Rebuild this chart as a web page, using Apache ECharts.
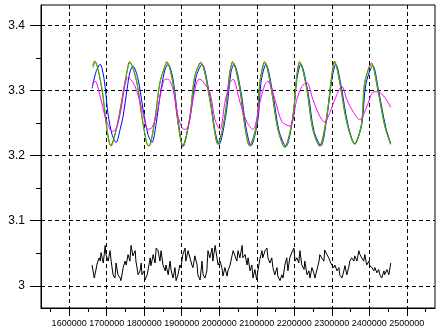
<!DOCTYPE html>
<html><head><meta charset="utf-8">
<script src="https://cdn.jsdelivr.net/npm/echarts@6/dist/echarts.min.js"></script>
<style>html,body{margin:0;padding:0;background:#fff}#c{width:441px;height:332px}</style>
</head><body><div id="c"></div>
<script>
const xMajorTicks = [1600000,1700000,1800000,1900000,2000000,2100000,2200000,2300000,2400000,2500000];
const xMinorTicks = [1550000,1650000,1750000,1850000,1950000,2050000,2150000,2250000,2350000,2450000,2550000];
const yMajorTicks = [3,3.1,3.2,3.3,3.4];
const yMinorTicks = [3.05,3.15,3.25,3.35];

const greenX = [1663900,1669200,1687800,1701200,1711800,1727800,1741100,1754400,1762400,1781000,1794300,1807600,1813000,1828900,1842200,1855600,1860900,1876900,1890200,1903500,1922100,1935400,1951400,1975300,1988700,1996600,2015300,2028600,2036600,2055200,2068500,2081800,2100500,2108500,2121800,2140400,2156400,2175000,2196300,2206900,2214900,2233600,2249500,2268200,2286800,2300100,2308100,2321400,2340000,2361300,2379900,2387900,2406600,2422500,2441200,2457200];
const greenY = [3.335,3.343,3.302,3.240,3.214,3.245,3.286,3.328,3.343,3.312,3.260,3.217,3.214,3.255,3.312,3.337,3.343,3.312,3.251,3.214,3.260,3.322,3.342,3.286,3.235,3.217,3.260,3.328,3.343,3.302,3.245,3.214,3.251,3.312,3.343,3.297,3.240,3.212,3.260,3.322,3.343,3.302,3.240,3.214,3.260,3.322,3.343,3.312,3.251,3.217,3.251,3.312,3.340,3.302,3.245,3.217];

const redX = [1662500,1668000,1686500,1700000,1710500,1726500,1740000,1753000,1761000,1779500,1793000,1806500,1812000,1827500,1841000,1854500,1860000,1875500,1889000,1902500,1921000,1934000,1950500,1974000,1987500,1995500,2014000,2027500,2035500,2054000,2067500,2080500,2099500,2107500,2121000,2139500,2155500,2174000,2195500,2206000,2214000,2232500,2248500,2267000,2285500,2299000,2307000,2320500,2339000,2360500,2379000,2387000,2405500,2421500,2440500,2456000];
const redY = [3.338,3.345,3.304,3.243,3.215,3.243,3.284,3.326,3.344,3.314,3.262,3.219,3.215,3.252,3.310,3.336,3.344,3.314,3.254,3.215,3.257,3.320,3.343,3.288,3.237,3.218,3.257,3.326,3.344,3.304,3.247,3.215,3.248,3.310,3.344,3.299,3.242,3.213,3.257,3.320,3.344,3.304,3.242,3.215,3.257,3.320,3.345,3.314,3.253,3.218,3.248,3.310,3.342,3.304,3.247,3.218];

const blueX = [1661200,1671900,1682500,1693200,1703800,1714500,1725100,1735800,1743700,1754400,1762400,1770400,1783700,1797000,1810300,1820900,1831600,1844900,1855600,1863600,1876900,1890200,1903500,1922100,1938100,1954000,1975300,1988700,1999300,2018000,2031300,2039300,2057900,2071200,2084500,2103200,2111100,2124500,2143100,2159100,2177700,2196300,2206900,2217500,2236200,2252200,2270900,2286800,2300100,2310800,2324100,2342700,2361300,2379900,2390600,2409200,2425200,2443800,2457200];
const blueY = [3.303,3.329,3.340,3.317,3.263,3.232,3.220,3.240,3.260,3.302,3.329,3.337,3.317,3.271,3.232,3.220,3.248,3.302,3.332,3.340,3.317,3.255,3.214,3.258,3.320,3.340,3.289,3.238,3.217,3.263,3.328,3.340,3.298,3.243,3.215,3.255,3.312,3.340,3.294,3.238,3.214,3.258,3.317,3.340,3.298,3.238,3.215,3.258,3.317,3.340,3.309,3.248,3.218,3.248,3.309,3.338,3.298,3.243,3.218];

const magentaX = [1661200,1669200,1682500,1695800,1709100,1717100,1727800,1738400,1749100,1757100,1775700,1794300,1810300,1820900,1834200,1844900,1855600,1863600,1876900,1890200,1906200,1916800,1930100,1940800,1948700,1962100,1975300,1988700,2002000,2015300,2028600,2036600,2055200,2073900,2089800,2108500,2121800,2129700,2148400,2167000,2188300,2206900,2220200,2233600,2249500,2268200,2281500,2294800,2308100,2326700,2340000,2356000,2374600,2393300,2409200,2422500,2441200,2457200];
const magentaY = [3.311,3.314,3.291,3.260,3.240,3.237,3.245,3.271,3.309,3.320,3.306,3.271,3.240,3.243,3.266,3.298,3.317,3.317,3.302,3.260,3.240,3.243,3.286,3.314,3.317,3.309,3.297,3.255,3.240,3.282,3.312,3.317,3.282,3.251,3.240,3.282,3.309,3.314,3.286,3.252,3.245,3.286,3.306,3.312,3.286,3.260,3.251,3.266,3.286,3.306,3.286,3.268,3.255,3.275,3.297,3.298,3.289,3.274];

const blackX = [1661000,1667000,1669000,1675000,1680000,1683000,1685000,1691000,1696000,1698000,1704000,1709000,1712000,1717000,1722000,1725000,1730000,1736000,1738000,1744000,1749000,1752000,1757000,1762000,1765000,1770000,1776000,1778000,1784000,1789000,1792000,1794000,1800000,1802000,1808000,1816000,1818000,1824000,1829000,1832000,1837000,1842000,1845000,1850000,1856000,1858000,1864000,1869000,1872000,1877000,1882000,1885000,1890000,1895000,1898000,1903000,1909000,1911000,1917000,1922000,1927000,1930000,1935000,1941000,1943000,1949000,1954000,1957000,1962000,1967000,1970000,1975000,1981000,1983000,1989000,1994000,1997000,2002000,2007000,2010000,2015000,2021000,2023000,2029000,2034000,2037000,2042000,2047000,2050000,2055000,2061000,2063000,2069000,2074000,2077000,2082000,2087000,2090000,2095000,2100000,2103000,2108000,2114000,2116000,2122000,2127000,2130000,2135000,2140000,2143000,2148000,2154000,2156000,2162000,2167000,2170000,2175000,2180000,2183000,2188000,2194000,2199000,2202000,2207000,2212000,2215000,2220000,2226000,2228000,2234000,2239000,2242000,2247000,2252000,2255000,2260000,2266000,2268000,2273000,2279000,2281000,2287000,2292000,2295000,2300000,2305000,2308000,2314000,2319000,2321000,2327000,2332000,2335000,2340000,2345000,2348000,2353000,2359000,2361000,2367000,2372000,2375000,2380000,2385000,2388000,2393000,2399000,2401000,2407000,2412000,2415000,2420000,2425000,2428000,2433000,2439000,2441000,2447000,2452000,2455000,2457000];
const blackY = [3.032,3.012,3.009,3.035,3.043,3.038,3.051,3.035,3.062,3.048,3.038,3.054,3.038,3.017,3.012,3.035,3.017,3.012,3.008,3.028,3.038,3.032,3.048,3.038,3.062,3.046,3.054,3.038,3.017,3.023,3.035,3.017,3.023,3.009,3.017,3.043,3.031,3.048,3.035,3.058,3.054,3.038,3.054,3.032,3.023,3.032,3.017,3.038,3.023,3.012,3.028,3.008,3.017,3.032,3.028,3.048,3.058,3.038,3.054,3.054,3.032,3.028,3.046,3.032,3.017,3.009,3.038,3.017,3.012,3.023,3.054,3.043,3.058,3.038,3.062,3.043,3.032,3.038,3.028,3.015,3.028,3.015,3.023,3.032,3.046,3.054,3.055,3.038,3.054,3.043,3.062,3.043,3.048,3.032,3.043,3.023,3.032,3.012,3.025,3.009,3.023,3.040,3.054,3.043,3.054,3.058,3.043,3.035,3.043,3.028,3.017,3.028,3.015,3.008,3.017,3.012,3.032,3.043,3.023,3.043,3.052,3.058,3.038,3.043,3.035,3.054,3.032,3.025,3.038,3.017,3.023,3.012,3.028,3.020,3.012,3.012,3.038,3.048,3.043,3.038,3.055,3.048,3.043,3.038,3.032,3.028,3.032,3.023,3.028,3.017,3.012,3.023,3.031,3.017,3.028,3.038,3.043,3.038,3.046,3.038,3.054,3.048,3.051,3.038,3.048,3.032,3.038,3.031,3.028,3.023,3.028,3.020,3.025,3.017,3.012,3.023,3.017,3.025,3.017,3.028,3.035];

function pairs(xs, ys) { return xs.map((x, i) => [x, ys[i]]); }

const chart = echarts.init(document.getElementById('c'), null, {renderer: 'canvas'});
const xFont = "'Liberation Sans',sans-serif";
const yFont = "'Liberation Sans',sans-serif";
const dash = {color: '#000', width: 1, type: [4, 3]};
function line(name, xs, ys, color, smooth) {
  return {name, type: 'line', xAxisIndex: 0, yAxisIndex: 0, data: pairs(xs, ys),
    showSymbol: false, symbol: 'none', smooth: smooth, lineStyle: {color, width: 1}, itemStyle: {color}, z: 3};
}
chart.setOption({
  animation: false,
  backgroundColor: '#fff',
  grid: {left: 41, top: 5, right: 6, bottom: 24, show: true, borderColor: '#000', borderWidth: 1, outerBoundsMode: 'none'},
  xAxis: [
    {type: 'value', min: 1525000, max: 2575000, position: 'bottom',
     axisLine: {show: true, lineStyle: {color: '#000', width: 1}},
     axisTick: {show: true, customValues: xMajorTicks, length: 8, lineStyle: {color: '#000'}},
     axisLabel: {show: true, customValues: xMajorTicks, margin: 11, color: '#000', fontSize: 9, fontFamily: xFont,
       showMinLabel: true, showMaxLabel: true, hideOverlap: false, interval: 0, formatter: v => String(v)},
     splitLine: {show: true, lineStyle: dash}},
    {type: 'value', min: 1525000, max: 2575000, position: 'bottom', offset: 0,
     axisLine: {show: false},
     axisTick: {show: true, customValues: xMinorTicks, length: 4, lineStyle: {color: '#000'}},
     axisLabel: {show: false}, splitLine: {show: false}}
  ],
  yAxis: [
    {type: 'value', min: 2.966, max: 3.431, position: 'left',
     axisLine: {show: true, lineStyle: {color: '#000', width: 1}},
     axisTick: {show: true, customValues: yMajorTicks, length: 11, lineStyle: {color: '#000'}},
     axisLabel: {show: true, customValues: yMajorTicks, margin: 16, color: '#000', fontSize: 12, fontFamily: yFont,
       showMinLabel: true, showMaxLabel: true, hideOverlap: false, formatter: v => String(v)},
     splitLine: {show: true, lineStyle: dash}},
    {type: 'value', min: 2.966, max: 3.431, position: 'left', offset: 0,
     axisLine: {show: false},
     axisTick: {show: true, customValues: yMinorTicks, length: 5, lineStyle: {color: '#000'}},
     axisLabel: {show: false}, splitLine: {show: false}}
  ],
  series: [
    line('black', blackX, blackY, '#000000', false),
    line('blue', blueX, blueY, '#0000ff', 0.3),
    line('red', redX, redY, '#ff0000', 0.3),
    line('green', greenX, greenY, '#00e000', 0.3),
    line('magenta', magentaX, magentaY, '#ff00ff', 0.3)
  ]
});
</script></body></html>
